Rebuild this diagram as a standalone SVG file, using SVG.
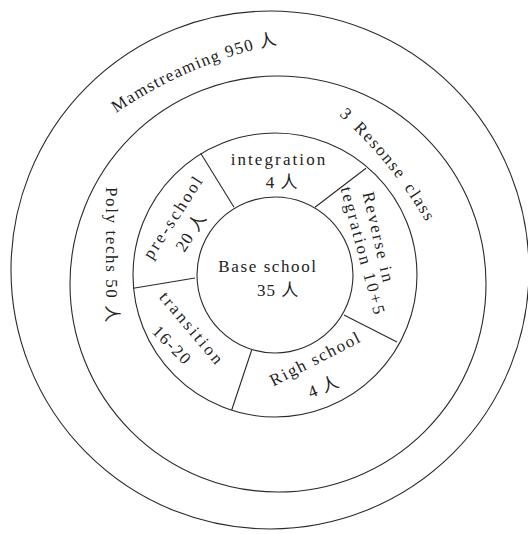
<svg xmlns="http://www.w3.org/2000/svg" xmlns:xlink="http://www.w3.org/1999/xlink" width="528" height="534" viewBox="0 0 528 534">
<style>
.ring{fill:none;stroke:#2a2a2a;stroke-width:1.1}
.div{stroke:#2a2a2a;stroke-width:1.1;fill:none}
.t{font-family:"Liberation Serif","Noto Sans CJK SC",serif;font-size:17px;fill:#222;text-anchor:middle}
.s{text-anchor:start}
</style>
<defs>
<path id="p1" d="M 116 113 A 450 450 0 0 1 278 44"/>
<path id="p2" d="M 339 115 A 450 450 0 0 1 426 222"/>
</defs>
<rect width="528" height="534" fill="#fff"/>
<g id="mainstreaming">
<circle class="ring" cx="270" cy="270" r="259"/>
<text class="t s" style="letter-spacing:1.3px"><textPath xlink:href="#p1" href="#p1">Mamstreaming 950 人</textPath></text>
</g>
<g id="resource-class">
<circle class="ring" cx="278" cy="284" r="208"/>
<text class="t s" style="letter-spacing:1.8px;word-spacing:3px"><textPath xlink:href="#p2" href="#p2">3 Resonse class</textPath></text>
</g>
<g id="poly-techs">
<text class="t s" transform="translate(106,187) rotate(90)" style="letter-spacing:1.6px">Poly techs 50 人</text>
</g>
<g id="ring">
<circle class="ring" cx="275" cy="275" r="142"/>
</g>
<g id="integration">
<text class="t" x="279" y="165" style="letter-spacing:2.1px">integration</text>
<text class="t" x="282" y="188" style="letter-spacing:1px">4 人</text>
</g>
<g id="pre-school">
<text class="t" transform="translate(174,217) rotate(-57)" y="5" style="letter-spacing:2.5px">pre-school</text>
<text class="t" transform="translate(191.5,232.5) rotate(-57)" y="5" style="letter-spacing:1px">20 人</text>
</g>
<g id="reverse-integration">
<text class="t" transform="translate(378,238) rotate(77)" y="5" style="letter-spacing:2.2px">Reverse in</text>
<text class="t" transform="translate(362.5,251.7) rotate(75)" y="5" style="letter-spacing:2.4px">tegration 10+5</text>
</g>
<g id="transition">
<text class="t" transform="translate(191.7,329.2) rotate(50)" y="5" style="letter-spacing:2.7px">transition</text>
<text class="t" transform="translate(171.7,345.8) rotate(45)" y="5" style="letter-spacing:1.7px">16-20</text>
</g>
<g id="righ-school">
<text class="t" transform="translate(315.8,359.2) rotate(-27)" y="5" style="letter-spacing:1.7px">Righ school</text>
<text class="t" transform="translate(324,387.5) rotate(-22)" y="5" style="letter-spacing:1px">4 人</text>
</g>
<g id="base-school">
<circle class="ring" cx="275" cy="275" r="78"/>
<text class="t" x="268" y="272" style="letter-spacing:1.6px">Base school</text>
<text class="t" x="278" y="296" style="letter-spacing:1px">35 人</text>
</g>
<g id="connectors">
<line class="div" x1="200.7" y1="153.3" x2="234" y2="207.3"/>
<line class="div" x1="366" y1="168.3" x2="315" y2="207.3"/>
<line class="div" x1="344" y1="315" x2="397" y2="342"/>
<line class="div" x1="251.7" y1="350" x2="231.7" y2="410"/>
<line class="div" x1="195" y1="278" x2="133.3" y2="288.3"/>
</g>
</svg>
